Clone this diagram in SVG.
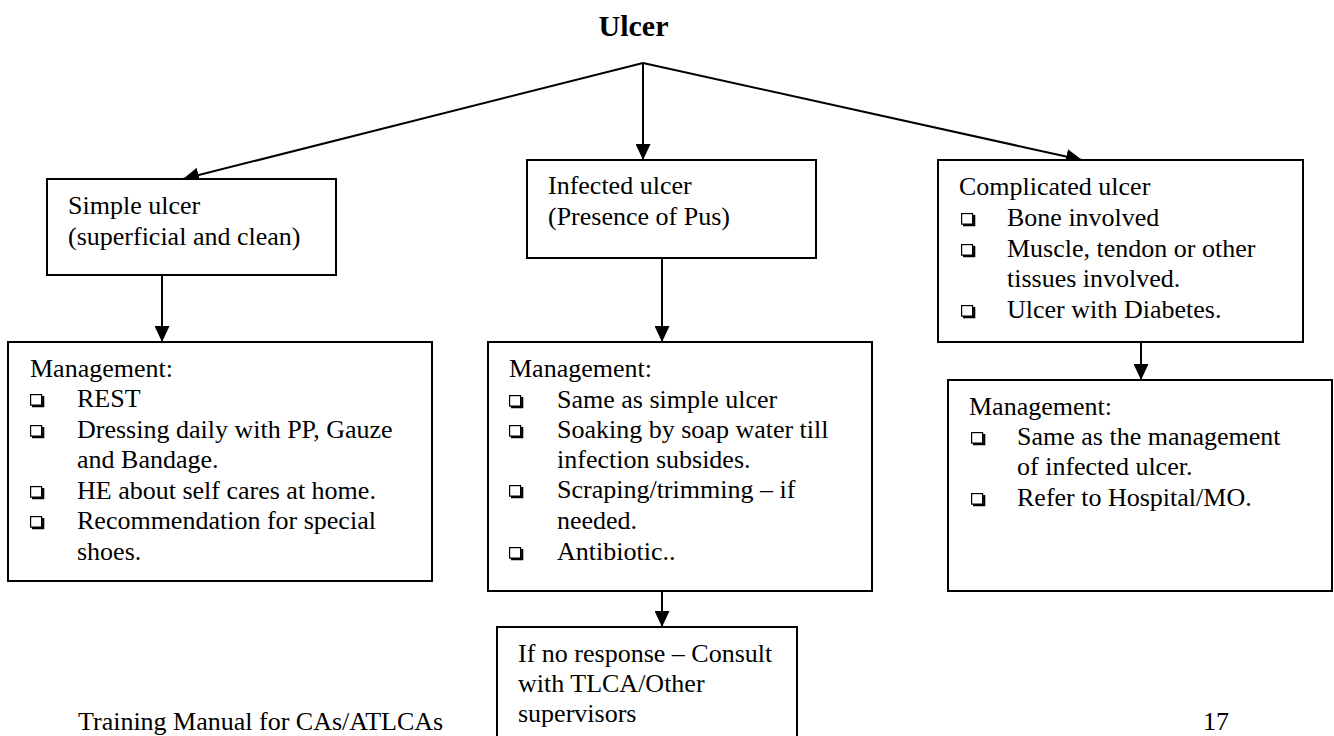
<svg xmlns="http://www.w3.org/2000/svg" width="1334" height="736" viewBox="0 0 1334 736">
<style>
.box{fill:#fff;stroke:#000;stroke-width:2}
.t{font-family:"Liberation Serif","Times New Roman",serif;font-size:26px;fill:#000}
.title{font-family:"Liberation Serif","Times New Roman",serif;font-size:30px;font-weight:bold;fill:#000}
.con{stroke:#000;stroke-width:2;fill:none}
</style>
<defs>
<marker id="ah" markerWidth="16" markerHeight="15" refX="16" refY="7.5" orient="auto" markerUnits="userSpaceOnUse">
<path d="M0,0 L16,7.5 L0,15 z" fill="#000"/>
</marker>
<g id="bul">
<rect x="0.6" y="0.6" width="11" height="10.5" fill="none" stroke="#000" stroke-width="1.2"/>
<path d="M2,12.2 H13.2 V2" fill="none" stroke="#000" stroke-width="2.2"/>
</g>
</defs>
<rect width="1334" height="736" fill="#fff"/>

<text class="title" x="633.5" y="36" text-anchor="middle">Ulcer</text>

<g id="connectors">
<line class="con" x1="643" y1="63" x2="183" y2="179" marker-end="url(#ah)"/>
<line class="con" x1="643" y1="63" x2="643" y2="160" marker-end="url(#ah)"/>
<line class="con" x1="643" y1="63" x2="1082" y2="160" marker-end="url(#ah)"/>
<line class="con" x1="162" y1="275" x2="162" y2="342" marker-end="url(#ah)"/>
<line class="con" x1="662" y1="258" x2="662" y2="342" marker-end="url(#ah)"/>
<line class="con" x1="1141" y1="342" x2="1141" y2="380" marker-end="url(#ah)"/>
<line class="con" x1="662" y1="591" x2="662" y2="627" marker-end="url(#ah)"/>
</g>

<g id="simple">
<rect class="box" x="47" y="179" width="289" height="96"/>
<text class="t" x="68" y="214">Simple ulcer</text>
<text class="t" x="68" y="245">(superficial and clean)</text>
</g>

<g id="infected">
<rect class="box" x="527" y="160" width="289" height="98"/>
<text class="t" x="548" y="194">Infected ulcer</text>
<text class="t" x="548" y="225">(Presence of Pus)</text>
</g>

<g id="complicated">
<rect class="box" x="938" y="160" width="365" height="182"/>
<text class="t" x="959" y="195">Complicated ulcer</text>
<use href="#bul" x="961" y="213"/>
<text class="t" x="1007" y="226">Bone involved</text>
<use href="#bul" x="961" y="244"/>
<text class="t" x="1007" y="257">Muscle, tendon or other</text>
<text class="t" x="1007" y="287">tissues involved.</text>
<use href="#bul" x="961" y="305"/>
<text class="t" x="1007" y="318">Ulcer with Diabetes.</text>
</g>

<g id="simple-mgmt">
<rect class="box" x="8" y="342" width="424" height="239"/>
<text class="t" x="30" y="377">Management:</text>
<use href="#bul" x="30" y="394"/>
<text class="t" x="77" y="407">REST</text>
<use href="#bul" x="30" y="425"/>
<text class="t" x="77" y="438">Dressing daily with PP, Gauze</text>
<text class="t" x="77" y="468">and Bandage.</text>
<use href="#bul" x="30" y="486"/>
<text class="t" x="77" y="499">HE about self cares at home.</text>
<use href="#bul" x="30" y="516"/>
<text class="t" x="77" y="529">Recommendation for special</text>
<text class="t" x="77" y="560">shoes.</text>
</g>

<g id="infected-mgmt">
<rect class="box" x="488" y="342" width="384" height="249"/>
<text class="t" x="509" y="377">Management:</text>
<use href="#bul" x="509" y="395"/>
<text class="t" x="557" y="408">Same as simple ulcer</text>
<use href="#bul" x="509" y="425"/>
<text class="t" x="557" y="438">Soaking by soap water till</text>
<text class="t" x="557" y="468">infection subsides.</text>
<use href="#bul" x="509" y="485"/>
<text class="t" x="557" y="498">Scraping/trimming – if</text>
<text class="t" x="557" y="529">needed.</text>
<use href="#bul" x="509" y="547"/>
<text class="t" x="557" y="560">Antibiotic..</text>
</g>

<g id="complicated-mgmt">
<rect class="box" x="948" y="380" width="384" height="211"/>
<text class="t" x="969" y="415">Management:</text>
<use href="#bul" x="971" y="432"/>
<text class="t" x="1017" y="445">Same as the management</text>
<text class="t" x="1017" y="475">of infected ulcer.</text>
<use href="#bul" x="971" y="493"/>
<text class="t" x="1017" y="506">Refer to Hospital/MO.</text>
</g>

<g id="no-response">
<rect class="box" x="497" y="627" width="300" height="130"/>
<text class="t" x="518" y="662">If no response – Consult</text>
<text class="t" x="518" y="692">with TLCA/Other</text>
<text class="t" x="518" y="722">supervisors</text>
</g>

<text class="t" x="78" y="730">Training Manual for CAs/ATLCAs</text>
<text class="t" x="1203" y="730">17</text>
</svg>
